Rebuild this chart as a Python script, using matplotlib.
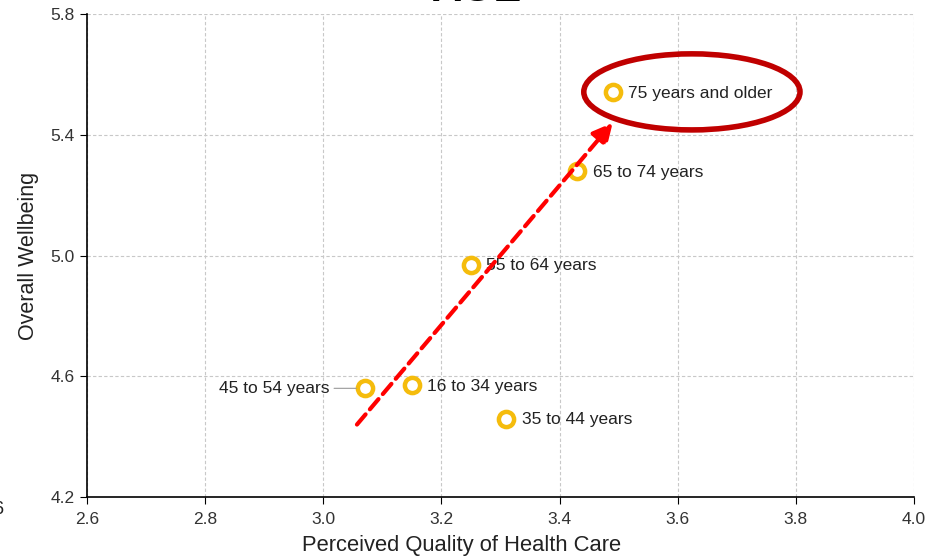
import matplotlib
matplotlib.use("Agg")
import matplotlib.pyplot as plt
from matplotlib.patches import Ellipse

plt.rcParams['font.family'] = ['Liberation Sans', 'DejaVu Sans']

labels = ["16 to 34 years", "35 to 44 years", "45 to 54 years",
          "55 to 64 years", "65 to 74 years", "75 years and older"]
quality = [3.15, 3.31, 3.07, 3.25, 3.43, 3.49]
wellbeing = [4.57, 4.46, 4.56, 4.97, 5.28, 5.54]

arrow_start = (3.057, 4.44)
arrow_end = (3.49, 5.44)
ellipse_center = (3.624, 5.542)
ellipse_size = (0.366, 0.252)

fig = plt.figure(figsize=(9.28, 5.57), dpi=100)
ax = fig.add_axes([87/928, 1-497/557, (914-87)/928, (497-14)/557])

ax.set_xlim(2.6, 4.0)
ax.set_ylim(4.2, 5.8)
ax.set_xticks([2.6, 2.8, 3.0, 3.2, 3.4, 3.6, 3.8, 4.0])
ax.set_yticks([4.2, 4.6, 5.0, 5.4, 5.8])
ax.set_xticklabels(["2.6", "2.8", "3.0", "3.2", "3.4", "3.6", "3.8", "4.0"])
ax.set_yticklabels(["4.2", "4.6", "5.0", "5.4", "5.8"])
ax.grid(True, color="#c8c8c8", linestyle=(0, (3, 2)), linewidth=0.8)
ax.set_axisbelow(True)
for s in ["top", "right"]:
    ax.spines[s].set_visible(False)
for s in ["left", "bottom"]:
    ax.spines[s].set_color("black")
    ax.spines[s].set_linewidth(1.2)
ax.tick_params(axis="both", labelsize=12.5, length=5, color="black", labelcolor="#333333")
ax.tick_params(axis="x", pad=6)
ax.tick_params(axis="y", pad=4)

ax.set_xlabel("Perceived Quality of Health Care", fontsize=15.8, color="#222222", labelpad=8)
ax.xaxis.set_label_coords((462-87)/(914-87), -(546-497)/(497-14) + 0.0)
ax.xaxis.label.set_va("center")
ax.set_ylabel("Overall Wellbeing", fontsize=15.5, color="#222222", labelpad=8)

ax.scatter(quality, wellbeing, s=120, facecolors="white", edgecolors="#F5BC0C",
           linewidths=3.2, zorder=4)

for lab, x, y in zip(labels, quality, wellbeing):
    if lab == "45 to 54 years":
        ax.annotate(lab, xy=(x, y), xytext=(-25, 0), textcoords="offset points",
                    ha="right", va="center", fontsize=12.5, color="#222222",
                    arrowprops=dict(arrowstyle="-", color="#999999", lw=0.8,
                                    shrinkA=1, shrinkB=6), zorder=5)
    else:
        ax.annotate(lab, xy=(x, y), xytext=(11, -1), textcoords="offset points",
                    ha="left", va="center", fontsize=12.5, color="#222222", zorder=5)

ax.annotate("", xy=arrow_end, xytext=arrow_start,
            arrowprops=dict(arrowstyle="-|>,head_length=1.2,head_width=0.6",
                            color="#FF0000", lw=3, linestyle=(0, (3.2, 1.6)),
                            shrinkA=0, shrinkB=0), zorder=6)

ell = Ellipse(ellipse_center, ellipse_size[0], ellipse_size[1], fill=False,
              edgecolor="#C00000", linewidth=4, zorder=6)
ax.add_patch(ell)

fig.text(477/928, 1.0 + 10/557, "AGE", ha="center", va="center", fontsize=30,
         fontweight="bold", color="black")
fig.text(-2/928, 1-510/557, "6", ha="center", va="center", fontsize=13, color="#222222")

fig.savefig("out.png", dpi=100)
